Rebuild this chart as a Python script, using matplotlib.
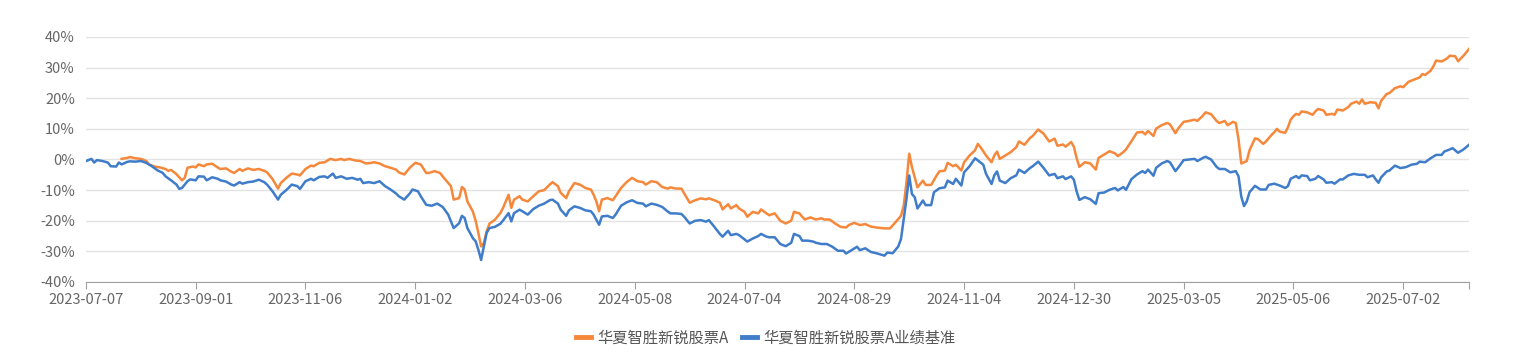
import numpy as np
import matplotlib
matplotlib.use("Agg")
import matplotlib.pyplot as plt

plt.rcParams['font.family'] = ['Noto Sans CJK SC', 'DejaVu Sans']

# x axis: trading day number since 2023-07-07, a label every 40 trading days
tick_days = [0, 40, 80, 120, 160, 200, 240, 280, 320, 360, 400, 440, 480]
tick_labels = ['2023-07-07', '2023-09-01', '2023-11-06', '2024-01-02', '2024-03-06',
               '2024-05-08', '2024-07-04', '2024-08-29', '2024-11-04', '2024-12-30',
               '2025-03-05', '2025-05-06', '2025-07-02']
last_day = 504

# 华夏智胜新锐股票A (%)
fund_day = [13, 15, 16, 18, 20, 22, 23, 25, 27, 29, 30, 31, 33, 35, 36, 37, 39, 40, 41, 43,
            44, 46, 48, 49, 51, 53, 54, 56, 57, 59, 61, 63, 65, 66, 68, 70, 71, 73, 75, 77,
            78, 80, 82, 83, 85, 87, 89, 91, 93, 94, 96, 98, 100, 102, 104, 105, 107, 109, 111, 113,
            114, 116, 118, 120, 122, 124, 125, 127, 129, 131, 133, 134, 136, 137, 138, 139, 141, 142, 143, 144,
            145, 146, 147, 149, 151, 152, 154, 155, 156, 158, 159, 161, 163, 165, 167, 169, 170, 172, 173, 175,
            176, 178, 180, 182, 184, 185, 186, 187, 188, 190, 192, 193, 195, 197, 199, 201, 203, 204, 206, 208,
            210, 212, 213, 215, 217, 218, 220, 222, 224, 226, 227, 229, 231, 232, 234, 235, 237, 238, 240, 241,
            243, 245, 246, 248, 249, 251, 253, 255, 257, 258, 260, 261, 262, 264, 266, 268, 269, 271, 273, 275,
            277, 278, 280, 282, 284, 286, 288, 291, 293, 295, 297, 298, 299, 300, 301, 302, 303, 305, 306, 308,
            310, 311, 313, 314, 316, 317, 319, 320, 322, 324, 325, 326, 328, 330, 331, 332, 333, 335, 337, 339,
            340, 342, 344, 345, 347, 349, 351, 353, 354, 356, 357, 359, 360, 361, 362, 364, 366, 368, 369, 371,
            373, 375, 376, 378, 379, 381, 383, 385, 386, 387, 389, 390, 392, 394, 395, 397, 398, 400, 402, 404,
            405, 407, 408, 410, 412, 413, 415, 416, 418, 419, 420, 421, 423, 424, 426, 427, 429, 430, 432, 433,
            434, 435, 437, 438, 439, 440, 441, 442, 443, 445, 447, 448, 449, 451, 452, 454, 455, 456, 458, 460,
            461, 463, 464, 465, 466, 468, 470, 471, 472, 474, 475, 477, 479, 480, 482, 484, 486, 487, 488, 490,
            491, 492, 494, 496, 497, 499, 500, 502, 504]
fund_ret = [0.2, 0.5, 0.8, 0.4, 0.2, -0.5, -1.6, -2.3, -2.6, -3.1, -3.7, -3.4, -4.8, -6.8, -6.0, -2.7, -2.3, -2.6, -1.6, -2.2,
            -1.6, -1.4, -2.6, -3.1, -2.9, -4.0, -4.4, -3.1, -3.7, -2.9, -3.4, -3.1, -3.7, -4.2, -6.4, -9.5, -7.7, -6.0, -4.6, -4.9,
            -5.2, -3.1, -2.0, -2.2, -1.1, -0.9, 0.2, -0.2, 0.2, -0.2, 0.2, -0.3, -0.5, -1.3, -1.1, -0.9, -1.3, -2.2, -2.7, -3.3,
            -4.2, -4.9, -2.7, -1.1, -1.6, -4.4, -4.4, -3.8, -4.4, -6.6, -8.7, -13.1, -12.6, -9.0, -9.8, -13.7, -17.0, -20.0, -24.0, -28.4,
            -27.3, -23.5, -21.0, -19.7, -17.5, -15.8, -11.5, -15.8, -13.1, -12.0, -13.1, -13.7, -12.0, -10.4, -10.0, -8.2, -7.4, -8.7, -10.9, -12.6,
            -10.4, -7.7, -8.2, -9.3, -9.8, -11.5, -13.7, -16.9, -13.1, -12.6, -13.3, -12.0, -9.3, -7.4, -6.0, -7.1, -7.4, -8.2, -7.1, -7.4,
            -9.0, -9.5, -9.1, -9.5, -9.5, -11.1, -14.1, -13.3, -12.7, -13.0, -12.7, -13.3, -14.1, -16.3, -14.6, -16.0, -14.9, -16.0, -17.1, -18.7,
            -17.1, -17.6, -16.3, -17.6, -18.2, -17.6, -20.0, -20.9, -20.0, -17.1, -17.6, -18.7, -19.6, -18.9, -19.6, -19.2, -19.6, -19.6, -20.9, -22.0,
            -22.2, -21.4, -20.7, -21.4, -21.1, -21.9, -22.2, -22.5, -22.5, -20.5, -18.4, -15.1, -7.4, 1.9, -2.5, -5.8, -9.1, -6.9, -8.3, -8.3,
            -5.2, -3.9, -3.6, -1.1, -2.2, -1.7, -3.6, -0.9, 1.3, 3.0, 5.1, 4.0, 1.3, -0.9, 1.3, 2.6, 0.2, 1.3, 2.4, 4.0,
            5.9, 4.8, 7.0, 7.7, 9.8, 8.4, 5.9, 6.8, 4.5, 4.9, 4.2, 5.7, 4.2, 0.5, -2.4, -0.9, -1.3, -3.3, 0.5, 1.6,
            2.7, 2.0, 1.1, 2.4, 3.3, 6.0, 8.8, 9.0, 8.2, 9.3, 7.7, 10.1, 11.2, 11.9, 11.5, 8.6, 10.1, 12.3, 12.6, 13.0,
            12.6, 14.3, 15.4, 14.8, 12.6, 11.9, 12.6, 11.2, 12.3, 11.9, 6.6, -1.3, -0.5, 3.0, 6.9, 6.7, 5.1, 5.9, 8.0, 8.9,
            10.0, 9.1, 8.7, 10.5, 13.0, 14.1, 14.9, 14.6, 15.7, 15.4, 14.6, 15.7, 16.5, 16.0, 14.6, 14.9, 14.6, 16.3, 16.0, 17.1,
            18.2, 18.9, 18.2, 19.6, 18.2, 18.7, 18.5, 16.7, 19.2, 21.4, 21.7, 23.3, 23.9, 23.6, 25.4, 26.1, 26.8, 27.9, 27.6, 29.0,
            30.4, 32.3, 32.0, 33.0, 33.9, 33.7, 32.1, 33.9, 36.1]

# 华夏智胜新锐股票A业绩基准 (%)
bench_day = [0, 2, 3, 4, 6, 8, 9, 11, 12, 13, 15, 16, 18, 20, 22, 24, 26, 28, 29, 31,
             33, 34, 35, 37, 38, 40, 41, 43, 44, 46, 48, 49, 51, 53, 54, 56, 57, 59, 61, 63,
             65, 66, 68, 70, 71, 73, 75, 77, 78, 80, 82, 83, 85, 87, 88, 90, 91, 93, 95, 97,
             99, 100, 101, 103, 105, 107, 109, 111, 113, 114, 116, 118, 119, 121, 122, 124, 126, 128, 130, 132,
             133, 134, 136, 137, 138, 139, 141, 142, 143, 144, 145, 146, 147, 149, 151, 152, 154, 155, 156, 158,
             159, 161, 163, 165, 167, 169, 170, 172, 173, 175, 176, 178, 180, 182, 184, 185, 186, 187, 188, 190,
             192, 193, 195, 197, 199, 201, 203, 204, 206, 208, 210, 212, 213, 215, 217, 218, 220, 222, 224, 226,
             227, 229, 231, 232, 234, 235, 237, 238, 240, 241, 243, 245, 246, 248, 249, 251, 253, 255, 257, 258,
             260, 261, 263, 265, 266, 268, 270, 272, 274, 276, 277, 279, 281, 282, 284, 286, 288, 291, 292, 294,
             296, 297, 298, 299, 300, 301, 302, 303, 305, 306, 308, 309, 311, 313, 314, 316, 317, 319, 320, 322,
             324, 325, 327, 328, 330, 331, 332, 333, 335, 337, 339, 340, 342, 344, 345, 347, 349, 351, 353, 354,
             356, 357, 359, 360, 361, 362, 364, 366, 368, 369, 371, 373, 375, 376, 378, 379, 381, 383, 385, 386,
             387, 389, 390, 392, 394, 395, 397, 398, 400, 402, 404, 405, 407, 408, 410, 412, 413, 415, 417, 419,
             420, 421, 422, 423, 424, 426, 428, 430, 431, 433, 435, 437, 438, 439, 441, 442, 443, 445, 446, 448,
             449, 451, 452, 454, 455, 457, 458, 460, 462, 464, 466, 467, 469, 470, 471, 472, 474, 475, 477, 479,
             481, 483, 485, 486, 488, 490, 492, 494, 495, 497, 498, 500, 502, 504]
bench_ret = [-0.5, 0.2, -1.0, -0.2, -0.5, -1.0, -2.2, -2.3, -1.0, -1.6, -0.8, -0.6, -0.7, -0.5, -1.1, -2.2, -3.5, -4.4, -5.5, -6.8,
             -8.2, -9.6, -9.3, -7.1, -6.5, -6.8, -5.5, -5.6, -6.8, -5.8, -6.3, -6.8, -7.2, -8.2, -8.5, -7.4, -7.9, -7.4, -7.2, -6.6,
             -7.4, -8.2, -10.4, -13.1, -11.5, -10.0, -8.2, -8.7, -9.6, -7.1, -6.3, -6.8, -5.7, -5.5, -6.0, -4.6, -6.0, -5.5, -6.3, -6.0,
             -6.6, -6.3, -7.7, -7.4, -7.7, -7.1, -8.7, -9.8, -11.1, -12.0, -13.1, -11.1, -9.8, -10.4, -12.0, -14.8, -15.1, -14.4, -15.5, -18.0,
             -20.2, -22.4, -20.8, -18.4, -19.1, -22.4, -25.7, -26.7, -29.5, -32.8, -28.4, -24.0, -22.4, -22.0, -21.0, -19.9, -17.5, -20.2, -17.5, -16.4,
             -16.9, -18.0, -16.2, -15.1, -14.4, -13.3, -13.1, -14.4, -16.4, -18.4, -16.6, -15.3, -15.8, -16.6, -16.9, -18.0, -19.7, -21.3, -18.6, -18.4,
             -19.1, -18.0, -15.1, -14.0, -13.3, -14.2, -14.4, -15.3, -14.4, -14.8, -15.5, -17.0, -17.6, -17.6, -17.8, -18.7, -20.9, -20.0, -19.8, -20.3,
             -19.8, -22.0, -24.3, -25.2, -23.3, -24.7, -24.3, -24.7, -26.1, -26.8, -25.8, -25.0, -24.3, -25.2, -25.4, -25.4, -27.6, -28.3, -27.2, -24.3,
             -25.0, -26.5, -26.5, -26.8, -27.2, -27.6, -27.6, -28.5, -29.8, -29.8, -30.7, -29.6, -28.5, -29.6, -29.0, -30.2, -30.6, -31.4, -30.4, -30.6,
             -28.4, -26.0, -19.5, -12.9, -5.2, -11.3, -12.3, -16.0, -13.4, -14.9, -14.9, -10.7, -9.4, -9.1, -6.9, -8.0, -6.3, -8.5, -4.2, -2.2,
             0.4, -0.3, -1.7, -4.7, -8.0, -5.2, -3.9, -6.9, -7.7, -6.1, -5.2, -3.3, -4.4, -2.8, -2.2, -0.7, -2.8, -5.2, -4.7, -6.1,
             -5.5, -6.4, -5.5, -6.6, -10.4, -13.2, -12.3, -13.0, -14.5, -11.0, -10.8, -9.9, -9.3, -10.1, -9.0, -9.9, -6.4, -4.9, -3.8, -4.4,
             -3.3, -5.3, -2.7, -1.3, -0.5, -0.9, -3.8, -2.7, -0.2, 0.0, 0.2, -0.5, 0.5, 0.9, 0.0, -2.4, -3.1, -3.1, -4.2, -3.8,
             -5.5, -12.1, -15.2, -13.7, -10.7, -8.6, -9.8, -9.8, -8.3, -7.9, -8.5, -9.3, -8.7, -6.3, -5.4, -6.1, -5.2, -5.4, -6.8, -6.3,
             -5.4, -6.5, -7.6, -7.4, -7.9, -6.5, -6.5, -5.2, -4.7, -5.0, -5.0, -5.8, -5.2, -6.5, -7.6, -5.8, -3.9, -3.6, -2.0, -2.8,
             -2.5, -1.7, -1.4, -0.7, -0.9, 0.4, 1.5, 1.5, 2.6, 3.3, 3.7, 2.2, 3.3, 4.8]

fund_color = '#f5883b'
bench_color = '#3f7cc9'

fig = plt.figure(figsize=(15.32, 3.52), dpi=100)
ax = fig.add_axes([0.0561, 0.1989, 0.9028, 0.696])

ax.plot(fund_day, fund_ret, color=fund_color, lw=1.8, label='华夏智胜新锐股票A', solid_joinstyle='round')
ax.plot(bench_day, bench_ret, color=bench_color, lw=1.8, label='华夏智胜新锐股票A业绩基准', solid_joinstyle='round')

ax.set_xlim(0, last_day)
ax.set_ylim(-40, 40)
ax.set_yticks(np.arange(-40, 41, 10))
ax.set_yticklabels([f'{v}%' for v in range(-40, 41, 10)])
ax.set_xticks(tick_days + [last_day])
ax.set_xticklabels(tick_labels + [''])

ax.grid(axis='y', color='#e3e3e3', lw=1)
ax.set_axisbelow(True)
for s in ['top', 'right', 'left']:
    ax.spines[s].set_visible(False)
ax.spines['bottom'].set_color('#a0a0a0')
ax.tick_params(axis='y', length=0, pad=8, labelsize=10.5, labelcolor='#666666')
ax.tick_params(axis='x', length=5, color='#a0a0a0', pad=3, labelsize=10.5, labelcolor='#666666')

leg = fig.legend(loc='center', bbox_to_anchor=(0.5, 0.04), ncol=2, frameon=False,
                 fontsize=11, handlelength=0.95, handletextpad=0.45, columnspacing=0.9)
for t in leg.get_texts():
    t.set_color('#555555')
for h in leg.get_lines():
    h.set_linewidth(3.5)

fig.savefig('out.png', dpi=100)
